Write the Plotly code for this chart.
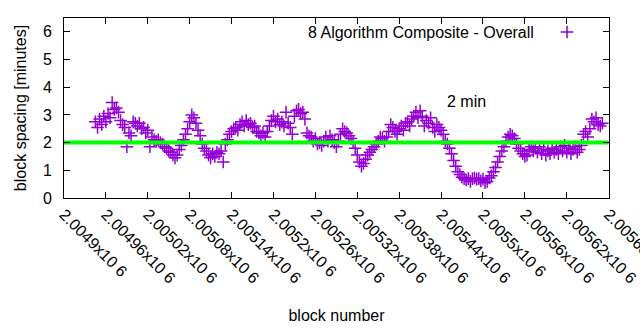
import plotly.graph_objects as go

# ---- data ----
block_start = 2004945
block_step = 3
spacing_minutes = [
    2.75, 2.55, 2.85, 2.65, 2.95, 2.75, 3.05, 2.9, 3.45, 3.2,
    3.25, 3.1, 2.8, 2.65, 2.55, 1.85, 2.35, 2.25, 2.75, 2.7,
    2.6, 2.7, 2.5, 2.55, 2.35, 2.45, 1.85, 2.2, 2.1, 2.05,
    2.1, 2.0, 1.95, 1.85, 1.8, 1.7, 1.65, 1.55, 1.45, 1.55,
    1.75, 1.9, 2.1, 2.3, 2.5, 2.75, 3.0, 2.9, 2.7, 2.45,
    2.25, 1.95, 1.8, 1.7, 1.55, 1.45, 1.6, 1.5, 1.65, 1.6,
    1.7, 1.3, 1.95, 2.1, 2.3, 2.4, 2.5, 2.55, 2.45, 2.65,
    2.75, 2.6, 2.8, 2.65, 2.7, 2.55, 2.6, 2.4, 2.35, 2.25,
    2.35, 2.2, 2.4, 2.6, 2.8, 2.95, 2.75, 2.85, 2.65, 2.75,
    2.6, 3.1, 2.7, 2.55, 2.3, 2.95, 3.15, 3.2, 3.05, 3.1,
    2.85, 2.35, 2.25, 2.2, 2.05, 2.15, 1.95, 2.0, 1.9, 2.05,
    2.2, 2.05, 2.25, 2.1, 2.0, 1.85, 2.05, 2.3, 2.5, 2.4,
    2.35, 2.25, 2.15, 2.0, 1.8, 1.55, 1.3, 1.15, 1.25, 1.4,
    1.55, 1.65, 1.75, 1.85, 1.95, 2.05, 2.2, 2.15, 2.05, 2.2,
    2.4, 2.65, 2.55, 2.4, 2.3, 2.5, 2.6, 2.45, 2.7, 2.75,
    2.6, 2.85, 2.95, 3.1, 2.9, 3.15, 2.95, 2.6, 2.8, 2.7,
    2.9, 2.55, 2.4, 2.65, 2.55, 2.45, 2.3, 2.05, 1.95, 1.8,
    1.6, 1.35, 1.15, 0.95, 0.85, 0.75, 0.7, 0.65, 0.7, 0.6,
    0.7, 0.72, 0.68, 0.7, 0.62, 0.68, 0.55, 0.6, 0.72, 0.8,
    0.95, 1.1, 1.3, 1.5, 1.7, 1.85, 2.05, 2.2, 2.3, 2.25,
    2.15, 1.95, 1.8, 1.7, 1.6, 1.5, 1.55, 1.75, 1.85, 1.7,
    1.8, 1.65, 1.85, 1.6, 1.75, 1.55, 1.7, 1.6, 1.8, 1.65,
    1.75, 1.6, 1.85, 1.7, 1.9, 1.65, 1.8, 1.6, 1.75, 1.85,
    1.65, 1.75, 1.9, 2.3, 2.4, 2.2, 2.5, 2.85, 2.75, 2.9,
    2.65, 2.6, 2.7,
]
blocks = [block_start + block_step * i for i in range(len(spacing_minutes))]

target_minutes = 2.0
x_min, x_max = 2004900, 2005680
tick_vals = [2004900, 2004960, 2005020, 2005080, 2005140, 2005200, 2005260,
             2005320, 2005380, 2005440, 2005500, 2005560, 2005620, 2005680]
tick_text = ["2.0049x10 6", "2.00496x10 6", "2.00502x10 6", "2.00508x10 6",
             "2.00514x10 6", "2.0052x10 6", "2.00526x10 6", "2.00532x10 6",
             "2.00538x10 6", "2.00544x10 6", "2.0055x10 6", "2.00556x10 6",
             "2.00562x10 6", "2.00568x10 6"]
series_name = "8 Algorithm Composite - Overall"

PURPLE = "#9400D3"
GREEN = "#00FF00"
FONT = "Liberation Sans, Arial, sans-serif"
MARKER = dict(symbol="cross-thin-open", size=9, color=PURPLE,
              line=dict(color=PURPLE, width=1.5))

fig = go.Figure()
fig.add_trace(go.Scatter(
    x=blocks, y=spacing_minutes, mode="markers",
    marker=MARKER, showlegend=False,
))
fig.add_trace(go.Scatter(
    x=[x_min, x_max], y=[target_minutes, target_minutes], mode="lines",
    line=dict(color=GREEN, width=4), showlegend=False,
))
# legend key sample (gnuplot style: text then sample on the right)
fig.add_trace(go.Scatter(
    x=[0.923], y=[0.922], xaxis="x2", yaxis="y2", mode="markers",
    marker=MARKER, showlegend=False, hoverinfo="skip",
))

fig.update_layout(
    width=640, height=330,
    margin=dict(l=64, r=31, t=18, b=132, autoexpand=False),
    paper_bgcolor="white", plot_bgcolor="white",
    font=dict(family=FONT, size=16, color="black"),
    xaxis=dict(
        range=[x_min, x_max + 0.5], tickvals=tick_vals, ticktext=tick_text,
        tickangle=45, ticks="inside", ticklen=6, tickcolor="black",
        showline=True, linecolor="black", linewidth=1, mirror="allticks",
        showgrid=False, zeroline=False, tickfont=dict(size=16),
        ticklabeloverflow="allow", automargin=False,
        title=dict(text="block number", font=dict(size=16), standoff=24),
    ),
    yaxis=dict(
        range=[0, 6.5], dtick=1, tick0=0,
        ticks="inside", ticklen=6, tickcolor="black",
        showline=True, linecolor="black", linewidth=1, mirror="allticks",
        showgrid=False, zeroline=False, tickfont=dict(size=16),
        ticklabelstandoff=8, automargin=False,
        title=dict(text="block spacing [minutes]", font=dict(size=16), standoff=12),
    ),
    xaxis2=dict(range=[0, 1], overlaying="x", visible=False),
    yaxis2=dict(range=[0, 1], overlaying="y", visible=False),
    annotations=[
        dict(text=series_name, xref="paper", yref="paper", x=0.866, y=0.922,
             xanchor="right", yanchor="middle", showarrow=False,
             font=dict(size=16)),
        dict(text="2 min", xref="x", yref="y", x=2005445, y=3.5,
             xanchor="left", yanchor="middle", showarrow=False,
             font=dict(size=16)),
    ],
)

fig.write_html("out.html")
